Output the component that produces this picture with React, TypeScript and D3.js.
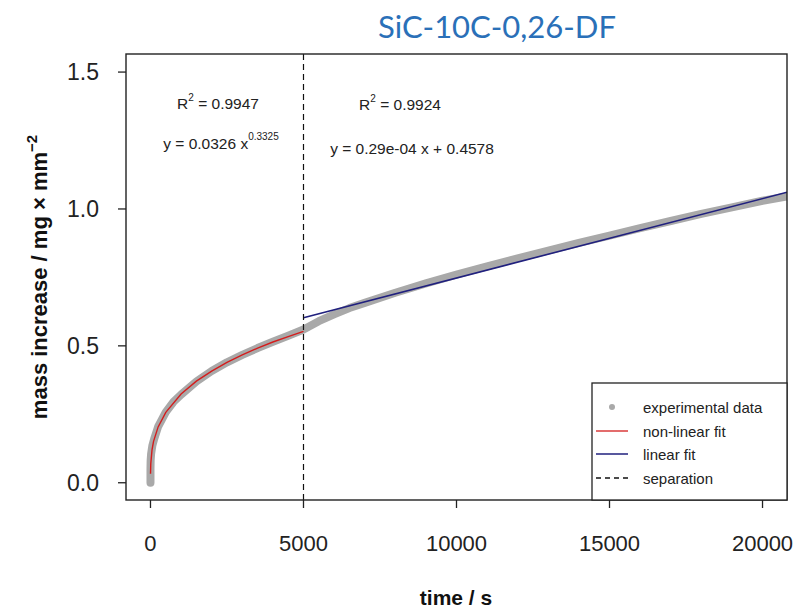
import React from 'react';
import * as d3 from 'd3';

const expTime = [0, 0, 5, 20, 60, 120, 250, 500, 750, 1000, 1500, 2000, 2500, 3000, 3500, 4000, 4500, 5000,
  5500, 6000, 6500, 7000, 8000, 9000, 10000, 11000, 12000, 13000, 14000, 15000, 16000, 17000, 18000, 19000, 20000, 20800];
const expMass = [0.0, 0.05, 0.08, 0.105, 0.135, 0.16, 0.205, 0.258, 0.295, 0.322, 0.37, 0.408, 0.44, 0.467, 0.492, 0.515, 0.537, 0.56,
  0.59, 0.615, 0.638, 0.657, 0.694, 0.728, 0.76, 0.79, 0.82, 0.848, 0.876, 0.903, 0.93, 0.956, 0.982, 1.006, 1.03, 1.046];

// non-linear fit (red)
const fitTime = [1, 10, 50, 100, 250, 500, 1000, 1500, 2000, 2500, 3000, 3500, 4000, 4500, 5000];
const fitMass = [0.033, 0.07, 0.12, 0.151, 0.204, 0.257, 0.324, 0.371, 0.408, 0.44, 0.467, 0.492, 0.514, 0.534, 0.553];

// linear fit (blue)
const linTime = [5000, 20800];
const linMass = [0.603, 1.061];

const separation = 5000;
const xTicks = [0, 5000, 10000, 15000, 20000];
const yTicks = [0.0, 0.5, 1.0, 1.5];

const legendItems = ['experimental data', 'non-linear fit', 'linear fit', 'separation'];

const W = 797;
const H = 610;
const plot = { left: 126, right: 787, top: 54, bottom: 500 };
const font = 'Liberation Sans, Arial, sans-serif';

export default function App() {
  const x = d3.scaleLinear().domain([-800, 20800]).range([plot.left, plot.right]);
  const y = d3.scaleLinear().domain([-0.063, 1.566]).range([plot.bottom, plot.top]);

  const line = d3.line<[number, number]>()
    .x(d => x(d[0]))
    .y(d => y(d[1]));

  const expPts = expTime.map((t, i) => [t, expMass[i]] as [number, number]);
  const fitPts = fitTime.map((t, i) => [t, fitMass[i]] as [number, number]);
  const linPts = linTime.map((t, i) => [t, linMass[i]] as [number, number]);

  const legX = 592;
  const legY = 383;
  const rowY = [407, 431, 454, 478];

  return (
    <svg width={W} height={H} style={{ position: 'absolute', left: 0, top: 0, background: 'white' }}>
      <defs>
        <clipPath id="plotclip">
          <rect x={plot.left} y={plot.top} width={plot.right - plot.left} height={plot.bottom - plot.top} />
        </clipPath>
      </defs>

      {/* title */}
      <text x={497} y={38} textAnchor="middle" fontFamily="Lato, 'Open Sans', sans-serif" fontSize={31} fill="#2a70b8">
        SiC-10C-0,26-DF
      </text>

      {/* data */}
      <g clipPath="url(#plotclip)">
        <path d={line(expPts) || ''} fill="none" stroke="#a9a9a9" strokeWidth={8} strokeLinecap="round" strokeLinejoin="round" />
        <path d={line(fitPts) || ''} fill="none" stroke="#d41c1c" strokeWidth={1.4} />
        <path d={line(linPts) || ''} fill="none" stroke="#20207e" strokeWidth={1.6} />
        <line x1={x(separation)} x2={x(separation)} y1={plot.top} y2={plot.bottom}
          stroke="#111" strokeWidth={1.2} strokeDasharray="6,4" />
      </g>

      {/* box */}
      <rect x={plot.left} y={plot.top} width={plot.right - plot.left} height={plot.bottom - plot.top}
        fill="none" stroke="#222" strokeWidth={1.4} />

      {/* y axis */}
      {yTicks.map(t => (
        <g key={t}>
          <line x1={plot.left - 8} x2={plot.left} y1={y(t)} y2={y(t)} stroke="#222" strokeWidth={1.3} />
          <text x={99} y={y(t) + 8} textAnchor="end" fontFamily={font} fontSize={23} fill="#222">
            {t.toFixed(1)}
          </text>
        </g>
      ))}

      {/* x axis */}
      {xTicks.map(t => (
        <g key={t}>
          <line x1={x(t)} x2={x(t)} y1={plot.bottom} y2={plot.bottom + 8} stroke="#222" strokeWidth={1.3} />
          <text x={x(t)} y={551} textAnchor="middle" fontFamily={font} fontSize={22} fill="#222">
            {t}
          </text>
        </g>
      ))}

      {/* axis titles */}
      <text x={456} y={605} textAnchor="middle" fontFamily={font} fontSize={21} fontWeight="bold" fill="#111">
        time / s
      </text>
      <text transform={`translate(47,${(plot.top + plot.bottom) / 2}) rotate(-90)`} textAnchor="middle"
        fontFamily={font} fontSize={22} fontWeight="bold" fill="#111">
        mass increase / mg × mm<tspan dy={-10} fontSize={15}>−2</tspan>
      </text>

      {/* annotations */}
      <text x={218} y={109} textAnchor="middle" fontFamily={font} fontSize={15.5} fill="#222">
        R<tspan dy={-8} fontSize={10}>2</tspan><tspan dy={8}> = 0.9947</tspan>
      </text>
      <text x={221} y={149} textAnchor="middle" fontFamily={font} fontSize={15.5} fill="#222">
        y = 0.0326 x<tspan dy={-9} fontSize={10}>0.3325</tspan>
      </text>
      <text x={400} y={110} textAnchor="middle" fontFamily={font} fontSize={15.5} fill="#222">
        R<tspan dy={-8} fontSize={10}>2</tspan><tspan dy={8}> = 0.9924</tspan>
      </text>
      <text x={412} y={154} textAnchor="middle" fontFamily={font} fontSize={15.5} fill="#222">
        y = 0.29e-04 x + 0.4578
      </text>

      {/* legend */}
      <rect x={legX} y={legY} width={plot.right - legX} height={plot.bottom - legY} fill="white" stroke="#222" strokeWidth={1.3} />
      <circle cx={612} cy={rowY[0]} r={3} fill="#a9a9a9" />
      <line x1={596} x2={628} y1={rowY[1]} y2={rowY[1]} stroke="#d41c1c" strokeWidth={1.3} />
      <line x1={596} x2={628} y1={rowY[2]} y2={rowY[2]} stroke="#20207e" strokeWidth={1.5} />
      <line x1={596} x2={628} y1={rowY[3]} y2={rowY[3]} stroke="#111" strokeWidth={1.3} strokeDasharray="5,4" />
      {legendItems.map((d, i) => (
        <text key={d} x={643} y={rowY[i] + 6} fontFamily={font} fontSize={15} fill="#222">{d}</text>
      ))}
    </svg>
  );
}
